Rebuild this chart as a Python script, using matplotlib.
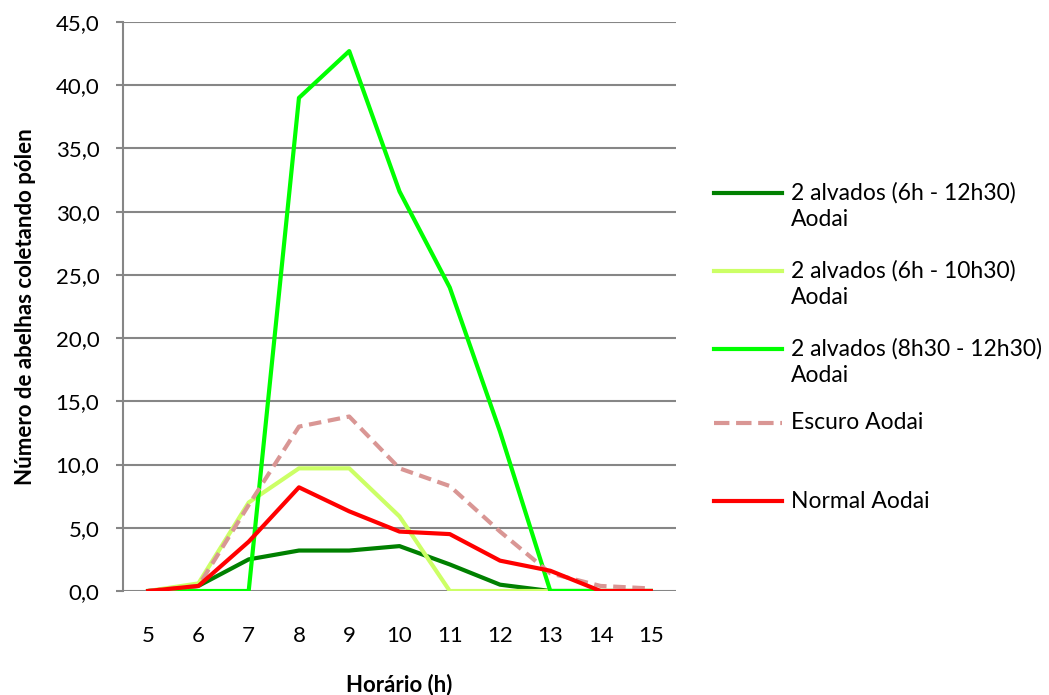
import matplotlib.pyplot as plt
from matplotlib.lines import Line2D
from matplotlib.ticker import FuncFormatter

plt.rcParams['font.family'] = ['Lato', 'DejaVu Sans']

horas = [5, 6, 7, 8, 9, 10, 11, 12, 13, 14, 15]

alvados_6_1230 = [0, 0.4, 2.5, 3.2, 3.2, 3.55, 2.1, 0.5, 0, 0, 0]
alvados_6_1030 = [0, 0.6, 7.0, 9.7, 9.7, 5.9, 0, 0, 0, 0, 0]
alvados_830_1230 = [0, 0, 0, 39.0, 42.7, 31.6, 24.0, 12.6, 0, 0, 0]
escuro = [0, 0.4, 6.8, 13.0, 13.8, 9.7, 8.3, 4.7, 1.4, 0.4, 0.2]
normal = [0, 0.4, 3.9, 8.2, 6.3, 4.7, 4.5, 2.4, 1.6, 0, 0]

labels = ["2 alvados (6h - 12h30)\nAodai",
          "2 alvados (6h - 10h30)\nAodai",
          "2 alvados (8h30 - 12h30)\nAodai",
          "Escuro Aodai",
          "Normal Aodai"]

W, H = 1049, 695
fig = plt.figure(figsize=(W / 100, H / 100), dpi=100)
ax = fig.add_axes([123 / W, 1 - 591 / H, (676 - 123) / W, (591 - 22) / H])

lines = []
lines += ax.plot(horas, alvados_6_1230, color="#008000", lw=3)
lines += ax.plot(horas, alvados_6_1030, color="#CCFF66", lw=3)
lines += ax.plot(horas, alvados_830_1230, color="#00FF00", lw=3)
lines += ax.plot(horas, escuro, color="#D99694", lw=3, ls=(0, (3, 1.6)))
lines += ax.plot(horas, normal, color="#FF0000", lw=3)

ax.set_xlim(4.5, 15.5)
ax.set_ylim(0, 45)
ax.set_xticks(horas)
ax.set_yticks(range(0, 46, 5))
ax.yaxis.set_major_formatter(FuncFormatter(lambda v, p: f"{v:.1f}".replace(".", ",")))
ax.grid(axis="y", color="#868686", lw=1.5)
ax.set_axisbelow(True)

for s in ["top", "right", "bottom"]:
    ax.spines[s].set_visible(False)
ax.spines["left"].set_color("#868686")
ax.spines["left"].set_linewidth(1.5)
ax.tick_params(axis="y", color="#868686", width=1.5, length=5, labelsize=16, pad=12)
ax.tick_params(axis="x", length=0, labelsize=16, pad=25)

ax.set_xlabel("Horário (h)", fontsize=16, fontweight="bold", labelpad=20)
ax.set_ylabel("Número de abelhas coletando pólen", fontsize=16, fontweight="bold", labelpad=14)

# legend drawn by hand to get the Excel-style spacing
leg_y = [193, 271, 349, 423, 501]
for ln, lab, y in zip(lines, labels, leg_y):
    fig.add_artist(Line2D([714 / W, 782 / W], [1 - y / H, 1 - y / H],
                          color=ln.get_color(), lw=3, ls=ln.get_linestyle()))
    for i, part in enumerate(lab.split("\n")):
        fig.text(791 / W, 1 - (y + 26 * i) / H, part, fontsize=16.5, va="center", ha="left")

fig.savefig("out.png")
